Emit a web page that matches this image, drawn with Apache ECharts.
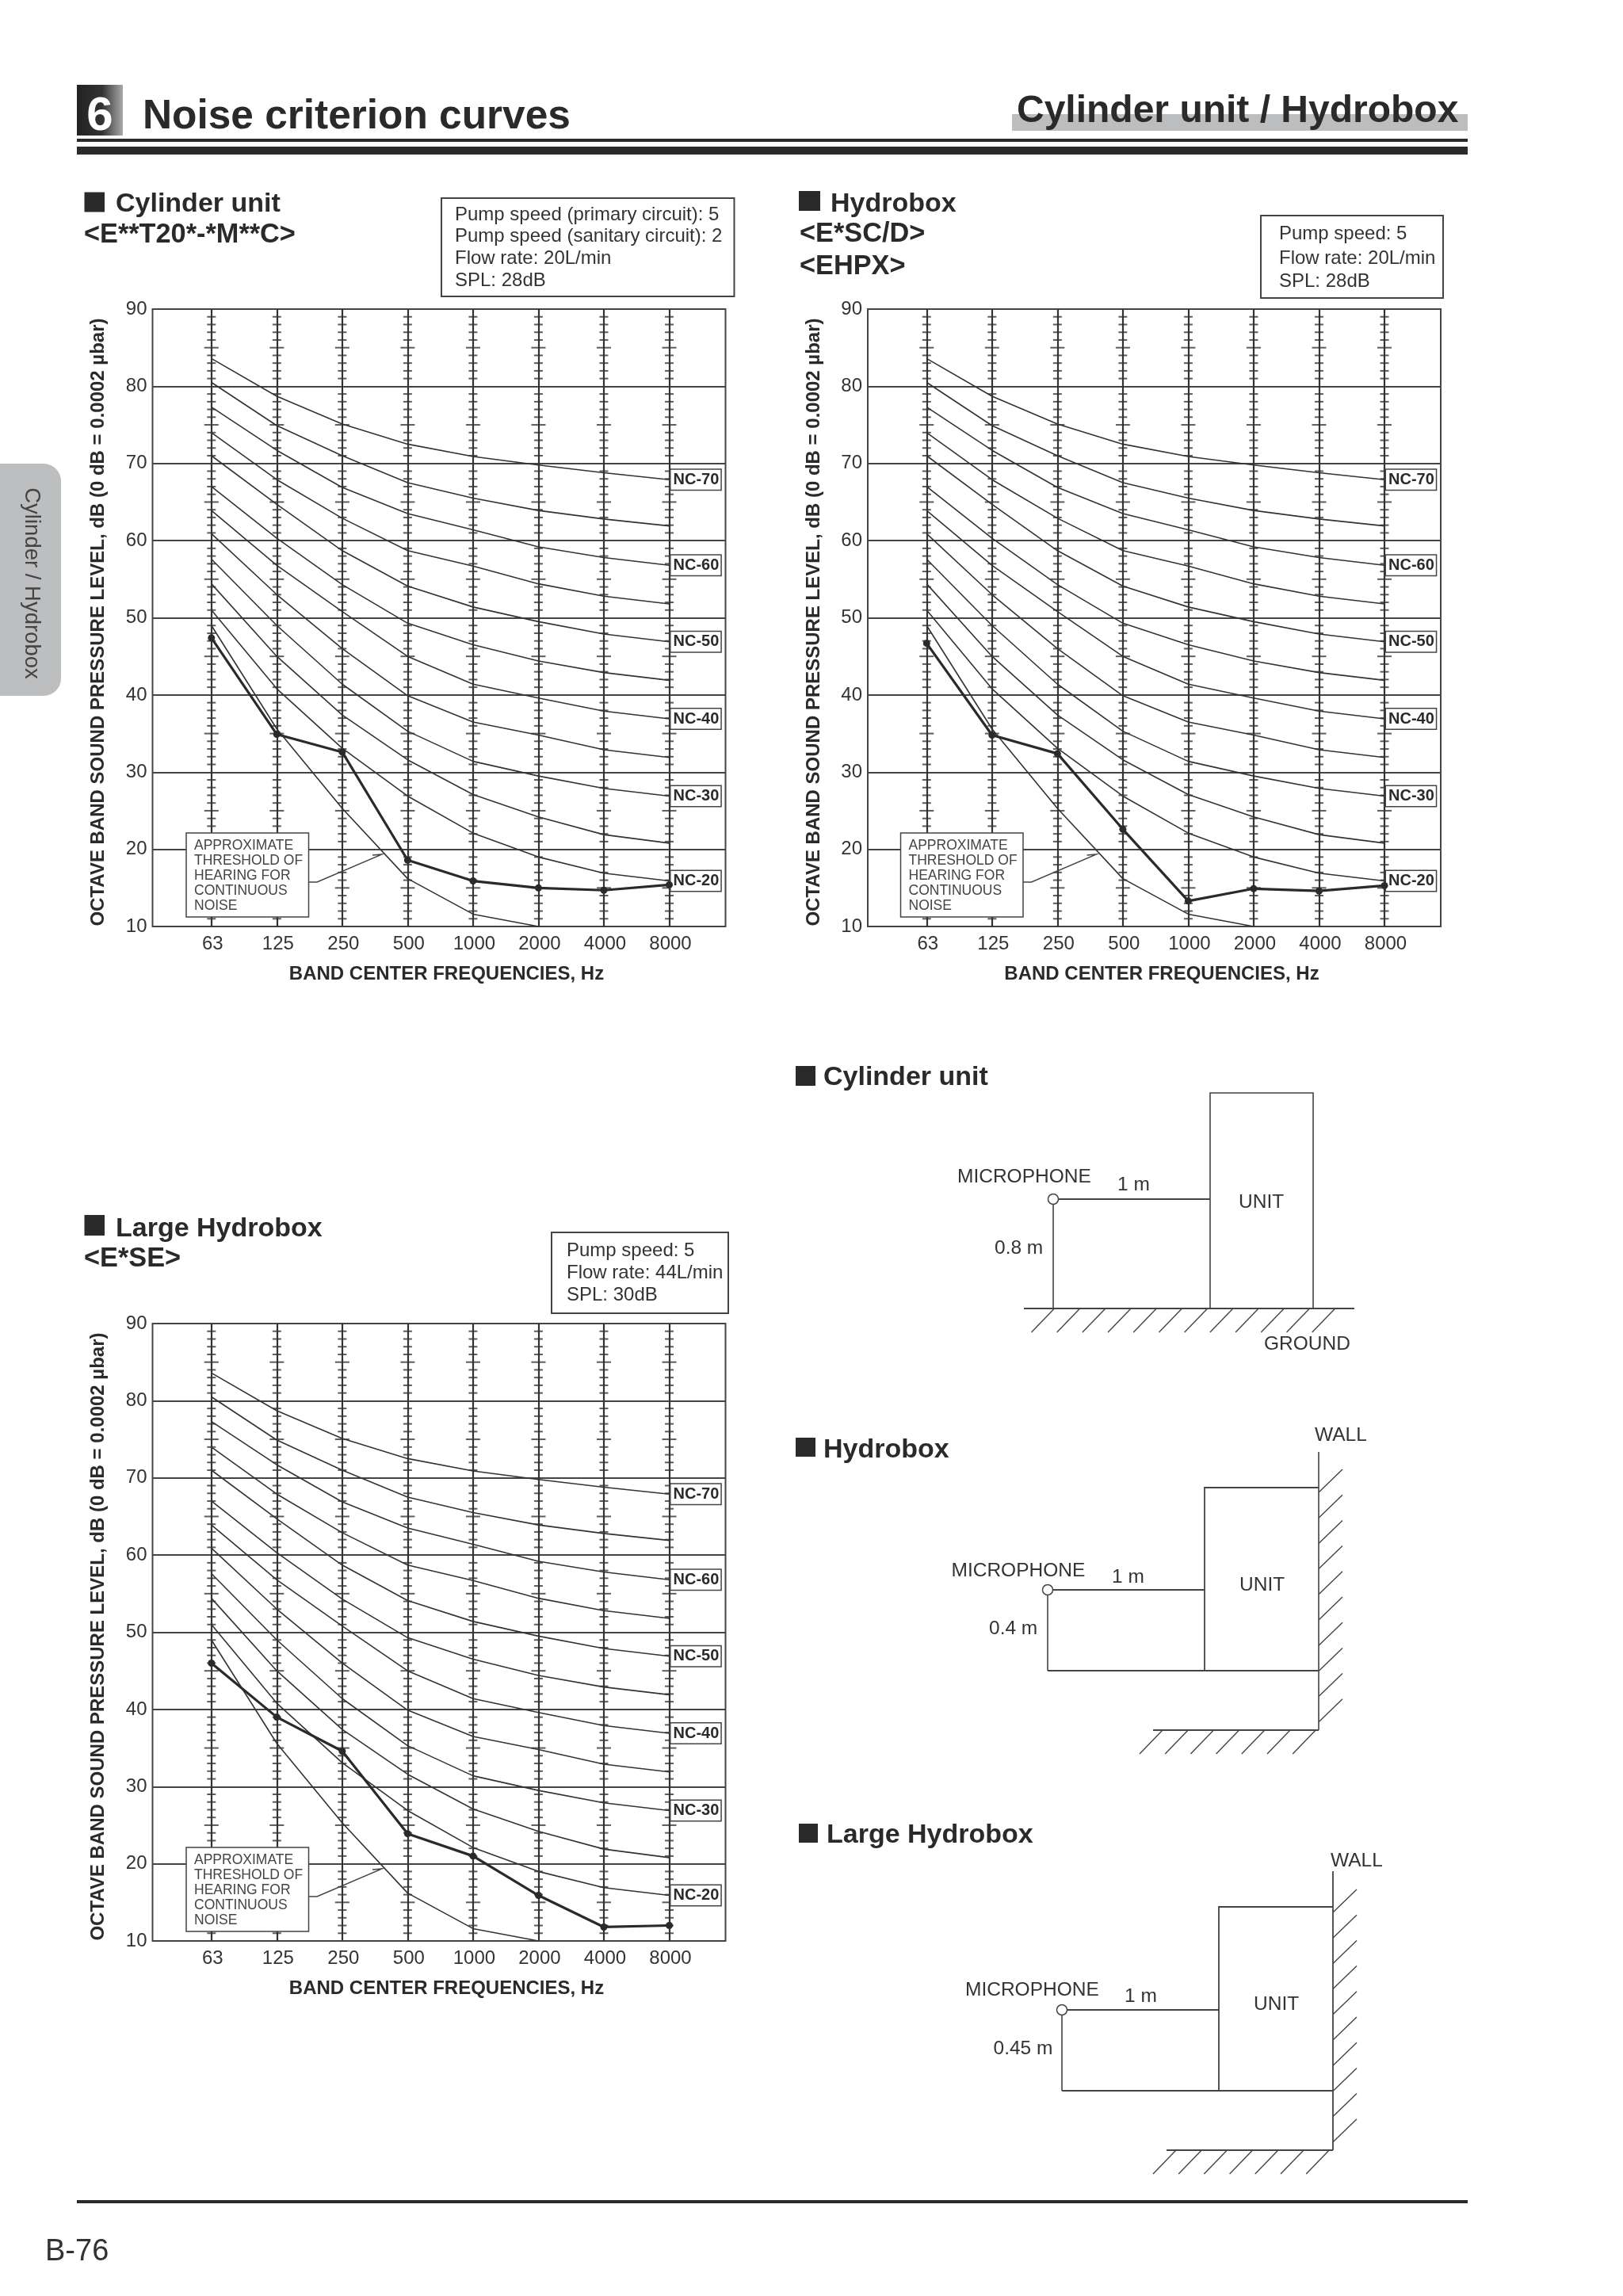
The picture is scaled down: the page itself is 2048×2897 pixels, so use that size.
<!DOCTYPE html>
<html><head><meta charset="utf-8">
<style>html,body{margin:0;padding:0;background:#fff}#c{width:2048px;height:2897px}</style>
<script src="https://cdn.jsdelivr.net/npm/echarts@6/dist/echarts.min.js"></script>
</head><body><div id="c"></div>
<script>
const categories = ['63','125','250','500','1000','2000','4000','8000'];
const yTicks = [10,20,30,40,50,60,70,80,90];
const nc70 = [83.6,78.7,75.1,72.5,70.9,69.8,68.8,67.9];
const nc65 = [80.5,74.9,71.0,67.5,65.5,63.9,62.8,61.9];
const nc60 = [77.3,71.7,66.9,63.5,61.4,59.2,57.8,56.8];
const nc55 = [74.0,67.9,62.9,58.7,56.7,54.4,52.8,51.8];
const nc50 = [71.0,64.7,58.7,54.1,51.4,49.5,47.9,46.9];
const nc45 = [67.0,60.3,54.3,49.3,46.5,44.4,42.9,41.9];
const nc40 = [63.9,56.8,50.8,45.0,41.4,39.6,37.9,36.9];
const nc35 = [60.9,53.0,46.0,39.9,36.5,34.8,32.9,31.9];
const nc30 = [57.6,49.0,41.4,35.3,31.4,29.5,27.9,26.9];
const nc25 = [54.4,45.0,37.4,31.6,27.1,24.2,21.9,20.8];
const nc20 = [51.0,40.8,33.1,26.9,22.1,19.0,16.9,15.9];
const threshold = [49.0,35.6,25.3,16.2,11.6,10.0];
const cylinderLevels = [47.4,34.9,32.6,18.6,15.9,15.0,14.7,15.4];
const hydroboxLevels = [46.7,34.8,32.4,22.6,13.3,14.9,14.6,15.3];
const largeHydroboxLevels = [46.0,39.0,34.6,23.9,21.0,15.9,11.8,12.0];
const curveSets = [['NC-70',nc70],['',nc65],['NC-60',nc60],['',nc55],['NC-50',nc50],['',nc45],['NC-40',nc40],['',nc35],['NC-30',nc30],['',nc25],['NC-20',nc20],['',threshold]];
const measured = [cylinderLevels, hydroboxLevels, largeHydroboxLevels];
const dbScale = []; for (let d = 10; d <= 90; d++) dbScale.push(d);

const FONT = '"Liberation Sans", Arial, sans-serif';
const INK = '#333333', DARK = '#2b2a2a';
const panels = [{left:192.5, top:390},{left:1095, top:390},{left:192.5, top:1670}];

const grids=[], xAxes=[], yAxes=[], series=[], els=[];
const pairs = a => a.map((v,i)=>[i,v]);

panels.forEach((p,k)=>{
  grids.push({left:p.left, top:p.top, width:723, height:779, show:true, borderColor:'#444', borderWidth:2, backgroundColor:'transparent'});
  xAxes.push({gridIndex:k, type:'value', min:-0.9, max:7.86,
    name:'BAND CENTER FREQUENCIES, Hz', nameLocation:'middle', nameGap:48,
    nameTextStyle:{fontFamily:FONT, fontWeight:'bold', fontSize:24, color:DARK, padding:[0,0,0,19]},
    axisLine:{show:false},
    axisTick:{show:false, customValues:categories.map((c,i)=>i)},
    axisLabel:{customValues:categories.map((c,i)=>i), formatter:v=>categories[v], fontFamily:FONT, fontSize:24, color:INK, margin:10, padding:[0,0,0,3]},
    splitLine:{show:true, lineStyle:{color:'#333', width:2.2}}});
  yAxes.push({gridIndex:k, type:'value', min:10, max:90, interval:10,
    name:'OCTAVE BAND SOUND PRESSURE LEVEL, dB (0 dB = 0.0002 µbar)', nameLocation:'middle', nameGap:56,
    nameTextStyle:{fontFamily:FONT, fontWeight:'bold', fontSize:24, color:DARK, padding:[0,11,0,0]},
    axisLine:{show:false}, axisTick:{show:false},
    axisLabel:{fontFamily:FONT, fontSize:24, color:INK, margin:7, padding:[3,0,0,0]},
    splitLine:{show:true, lineStyle:{color:'#444', width:2}}});

  // dB cross ticks on each band line
  const minor=[], major=[];
  categories.forEach((c,i)=>dbScale.forEach(d=>{ if(d%10===0) return; (d%5===0?major:minor).push([i,d]); }));
  series.push({type:'scatter', xAxisIndex:k, yAxisIndex:k, silent:true, z:1, symbol:'rect', symbolSize:[11,2], itemStyle:{color:'#333'}, data:minor});
  series.push({type:'scatter', xAxisIndex:k, yAxisIndex:k, silent:true, z:1, symbol:'rect', symbolSize:[18,2], itemStyle:{color:'#333'}, data:major});

  curveSets.forEach(([label,vals])=>{
    const s={type:'line', name:label, xAxisIndex:k, yAxisIndex:k, silent:true, z:2, symbol:'none', showSymbol:false,
      lineStyle:{color:INK, width:1.6}, data:pairs(vals)};
    if(label){ s.endLabel={show:true, position:'right', distance:2, formatter:()=>label, fontFamily:FONT, fontWeight:'bold', fontSize:20, color:DARK,
      lineHeight:20, backgroundColor:'#fff', borderColor:'#444', borderWidth:1.5, padding:[3,2,2,3]}; }
    series.push(s);
  });
  series.push({type:'line', name:'SPL', xAxisIndex:k, yAxisIndex:k, silent:true, z:3, symbol:'circle', symbolSize:9, showSymbol:true,
    lineStyle:{color:DARK, width:3.2}, itemStyle:{color:DARK}, data:pairs(measured[k])});

  // threshold callout
  const dx=p.left-192.5+(k===1?-1:0), dy=p.top-390;
  els.push({type:'rect', z:50, silent:true, shape:{x:235+dx,y:1051+dy,width:154.5,height:106}, style:{fill:'#fff',stroke:'#444',lineWidth:1.5}});
  ['APPROXIMATE','THRESHOLD OF','HEARING FOR','CONTINUOUS','NOISE'].forEach((t,j)=>els.push(text(245+dx,1072+dy+j*19,t,17.5,'normal','#444')));
  els.push(poly([[389.5+dx,1113+dy],[400+dx,1113+dy],[482+dx,1078+dy],[470+dx,1079+dy]],1.5,'#444',50));
});

function text(x,base,t,size,weight,fill,align){
  return {type:'text', z:60, silent:true, x:x, y:base-size*0.26,
    style:{text:t, font:(weight||'normal')+' '+size+'px '+FONT, fill:fill||INK, textAlign:align||'left', textVerticalAlign:'middle'}};
}
function line(x1,y1,x2,y2,w,c){ return {type:'line', z:40, silent:true, shape:{x1,y1,x2,y2}, style:{stroke:c||'#444',lineWidth:w||1.5}}; }
function poly(pts,w,c,z){ return {type:'polyline', z:z||40, silent:true, shape:{points:pts}, style:{stroke:c||'#444',lineWidth:w||1.5,fill:'none'}}; }
function box(x,y,w,h,lw,fill,stroke){ return {type:'rect', z:30, silent:true, shape:{x,y,width:w,height:h}, style:{fill:fill||'#fff',stroke:stroke||'none',lineWidth:lw||0}}; }
function heading(x,y,w,h,tx,base,lbl){ els.push(box(x,y,w,h,0,DARK)); els.push(text(tx,base,lbl,34,'bold',DARK)); }
function infoBox(x,y,w,h,tx,bases,lines){ els.push(box(x,y,w,h,2,'#fff','#444')); lines.forEach((t,i)=>els.push(text(tx,bases[i],t,24,'normal',INK))); }

// page header
els.push({type:'rect', z:30, silent:true, shape:{x:97,y:107,width:58,height:64}, style:{fill:{type:'linear',x:0,y:0,x2:1,y2:0,colorStops:[{offset:0,color:'#222'},{offset:.55,color:'#333'},{offset:1,color:'#aaa'}]}}});
els.push(text(126,163,'6',60,'bold','#fff','center'));
els.push(text(180,161,'Noise criterion curves',51.4,'bold',DARK));
els.push(box(1277,144,575,21,0,'#bcbdbf'));
els.push(text(1283,153,'Cylinder unit / Hydrobox',48,'bold',DARK));
els.push(box(97,175,1755,4,0,DARK));
els.push(box(97,185,1755,10,0,DARK));
els.push(box(97,2776,1755,4,0,DARK));
els.push(text(57,2851,'B-76',38,'normal',INK));

// side tab
els.push({type:'rect', z:30, silent:true, shape:{x:0,y:585,width:77,height:293,r:[0,22,22,0]}, style:{fill:'#bdbec0'}});
els.push({type:'text', z:60, silent:true, x:40, y:736, rotation:-Math.PI/2, style:{text:'Cylinder / Hydrobox', font:'normal 27.5px '+FONT, fill:'#444', textAlign:'center', textVerticalAlign:'middle'}});

// panel headings and info boxes
heading(106.5,242.5,25.5,25,146,266,'Cylinder unit');
els.push(text(106,305,'<E**T20*-*M**C>',34.3,'bold',DARK));
infoBox(557,250,369.5,124,574,[278,305,333,361],['Pump speed (primary circuit): 5','Pump speed (sanitary circuit): 2','Flow rate: 20L/min','SPL: 28dB']);

heading(1008,241,27,25,1048,266,'Hydrobox');
els.push(text(1009,304,'<E*SC/D>',34.3,'bold',DARK));
els.push(text(1009,345,'<EHPX>',34.3,'bold',DARK));
infoBox(1591,272,230,104,1614,[302,333,362],['Pump speed: 5','Flow rate: 20L/min','SPL: 28dB']);

heading(106.5,1533,25.5,26,146,1559,'Large Hydrobox');
els.push(text(106,1597,'<E*SE>',34.3,'bold',DARK));
infoBox(696,1555,223,102,715,[1585,1613,1641],['Pump speed: 5','Flow rate: 44L/min','SPL: 30dB']);

// measurement diagrams
function mic(cx,cy){ els.push({type:'circle', z:45, silent:true, shape:{cx,cy,r:6.5}, style:{fill:'#fff',stroke:'#444',lineWidth:1.5}}); }
function hatchDown(x0,n,yTop){ for(let i=0;i<n;i++) els.push(line(x0+i*32.2,yTop+30,x0+i*32.2+29,yTop,1.4)); }
function hatchWall(xw,y0,n){ for(let i=0;i<n;i++) els.push(line(xw,y0+i*32.2,xw+30,y0+i*32.2-29,1.4)); }

// Cylinder unit
heading(1004,1345,25,25,1039,1368,'Cylinder unit');
els.push(box(1527,1379,130,272,1.6,'#fff','#444'));
els.push(line(1292,1651,1709,1651,2));
hatchDown(1301.5,12,1651);
els.push(line(1329,1519,1329,1651,1.6));
els.push(line(1335,1513,1527,1513,2));
mic(1329,1513);
els.push(text(1208,1492,'MICROPHONE',24.5));
els.push(text(1410,1502,'1 m',24.5));
els.push(text(1563,1524,'UNIT',24.5));
els.push(text(1255,1582,'0.8 m',24.5));
els.push(text(1595,1703,'GROUND',24.5));

// Hydrobox
heading(1004,1814,25,24,1039,1838,'Hydrobox');
els.push(text(1659,1818,'WALL',24.5));
els.push(line(1664,1832,1664,2183,1.6));
hatchWall(1664,1883,10);
els.push(poly([[1664,1877],[1520,1877],[1520,2108]],1.8));
els.push(line(1322,2108,1664,2108,2));
els.push(line(1322,2012,1322,2108,1.6));
els.push(line(1328,2006,1520,2006,2));
mic(1322,2006);
els.push(line(1455,2183,1664,2183,2));
hatchDown(1438,7,2183);
els.push(text(1200.5,1989,'MICROPHONE',24.5));
els.push(text(1403,1997,'1 m',24.5));
els.push(text(1564,2007,'UNIT',24.5));
els.push(text(1248,2062,'0.4 m',24.5));

// Large Hydrobox
heading(1008,2301,24,24,1043,2324,'Large Hydrobox');
els.push(text(1679,2355,'WALL',24.5));
els.push(line(1682,2361,1682,2713,1.8));
hatchWall(1682,2413,10);
els.push(poly([[1682,2406],[1538,2406],[1538,2638]],1.8));
els.push(line(1340,2638,1682,2638,2));
els.push(line(1340,2542,1340,2638,1.6));
els.push(line(1346,2536,1538,2536,2));
mic(1340,2536);
els.push(line(1472,2713,1682,2713,2));
hatchDown(1455,7,2713);
els.push(text(1218,2518,'MICROPHONE',24.5));
els.push(text(1419,2526,'1 m',24.5));
els.push(text(1582,2536,'UNIT',24.5));
els.push(text(1253.5,2592,'0.45 m',24.5));

const chart = echarts.init(document.getElementById('c'), null, {renderer:'canvas'});
chart.setOption({animation:false, backgroundColor:'#fff', tooltip:{show:false}, legend:{show:false},
  grid:grids, xAxis:xAxes, yAxis:yAxes, series:series, graphic:{elements:els}});
</script></body></html>
